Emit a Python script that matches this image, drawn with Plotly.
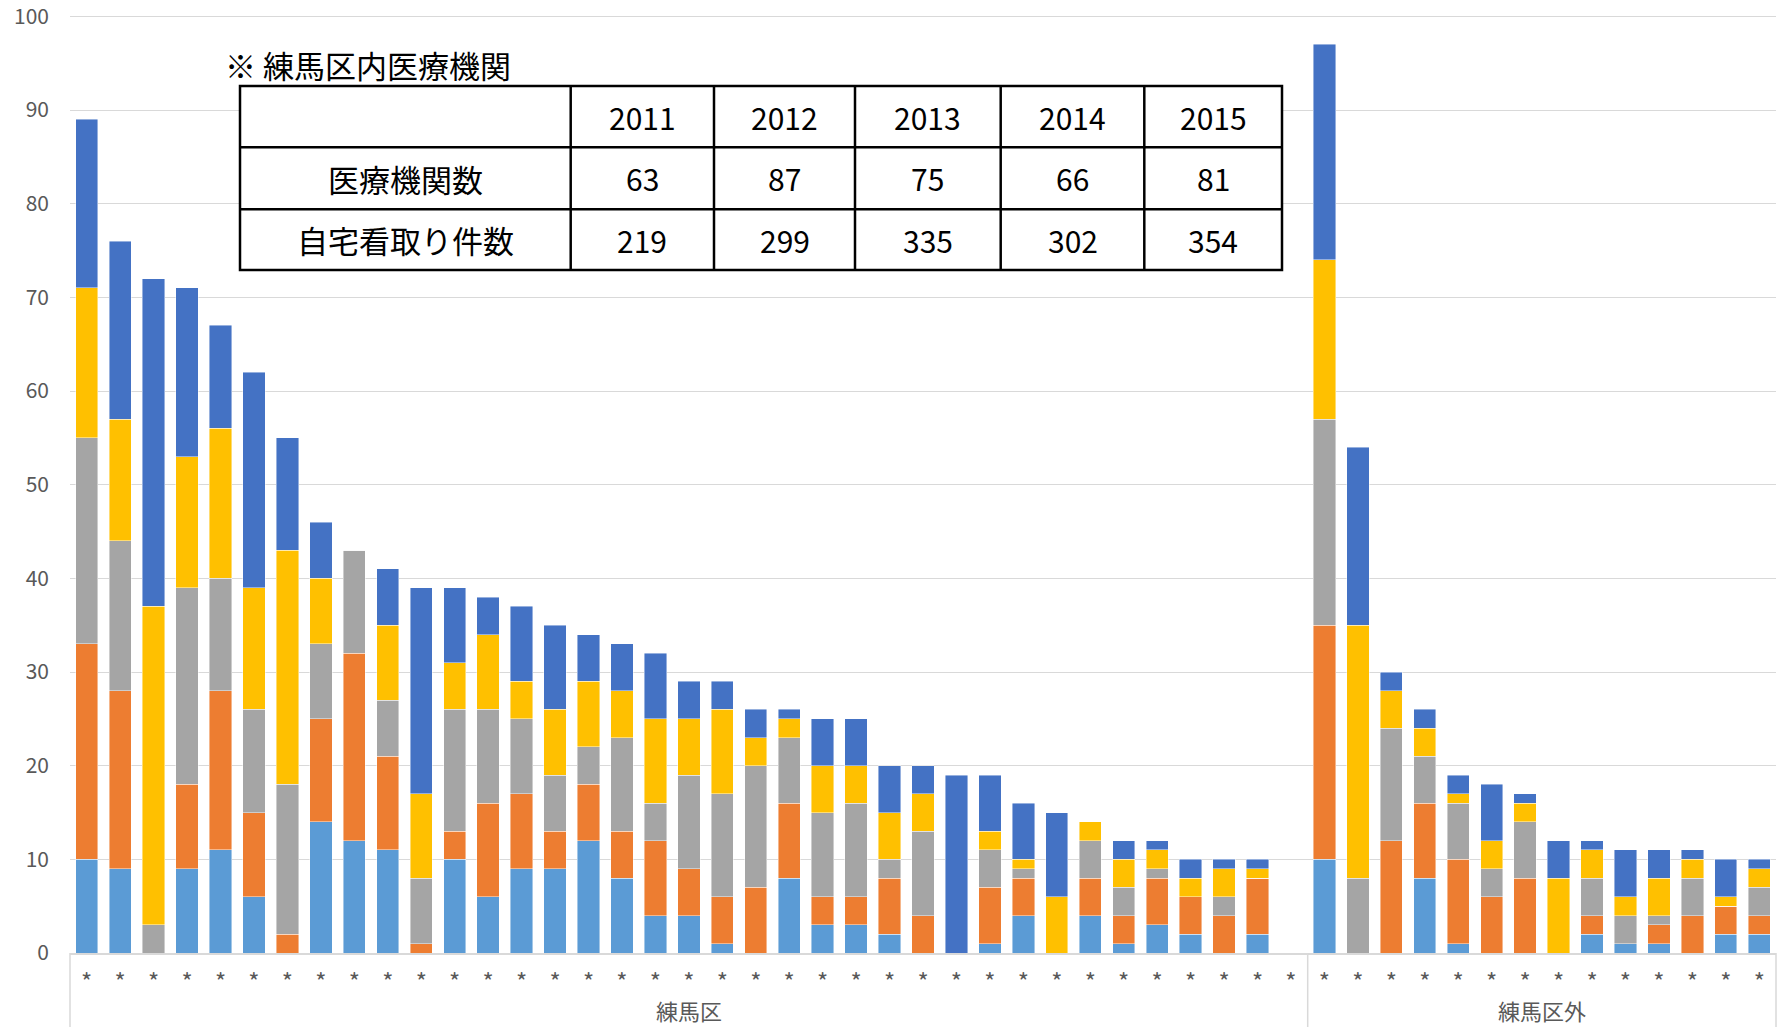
import plotly.graph_objects as go

# --- data -------------------------------------------------------------
years = ["2011", "2012", "2013", "2014", "2015"]

# home-death counts per medical institution, one list per year
# first 37 institutions are inside 練馬区, the last 14 are outside
y2011 = [10, 9, 0, 9, 11, 6, 0, 14, 12, 11, 0, 10, 6, 9, 9, 12, 8, 4, 4, 1,
         0, 8, 3, 3, 2, 0, 0, 1, 4, 0, 4, 1, 3, 2, 0, 2, 0,
         10, 0, 0, 8, 1, 0, 0, 0, 2, 1, 1, 0, 2, 2]
y2012 = [23, 19, 0, 9, 17, 9, 2, 11, 20, 10, 1, 3, 10, 8, 4, 6, 5, 8, 5, 5,
         7, 8, 3, 3, 6, 4, 0, 6, 4, 0, 4, 3, 5, 4, 4, 6, 0,
         25, 0, 12, 8, 9, 6, 8, 0, 2, 0, 2, 4, 3, 2]
y2013 = [22, 16, 3, 21, 12, 11, 16, 8, 11, 6, 7, 13, 10, 8, 6, 4, 10, 4, 10, 11,
         13, 7, 9, 10, 2, 9, 0, 4, 1, 0, 4, 3, 1, 0, 2, 0, 0,
         22, 8, 12, 5, 6, 3, 6, 0, 4, 3, 1, 4, 0, 3]
y2014 = [16, 13, 34, 14, 16, 13, 25, 7, 0, 8, 9, 5, 8, 4, 7, 7, 5, 9, 6, 9,
         3, 2, 5, 4, 5, 4, 0, 2, 1, 6, 2, 3, 2, 2, 3, 1, 0,
         17, 27, 4, 3, 1, 3, 2, 8, 3, 2, 4, 2, 1, 2]
y2015 = [18, 19, 35, 18, 11, 23, 12, 6, 0, 6, 22, 8, 4, 8, 9, 5, 5, 7, 4, 3,
         3, 1, 5, 5, 5, 3, 19, 6, 6, 9, 0, 2, 1, 2, 1, 1, 0,
         23, 19, 2, 2, 2, 6, 1, 4, 1, 5, 3, 1, 4, 1]

groups = ["練馬区", "練馬区外"]
group_sizes = [37, 14]
category_label = "*"
y_ticks = [0, 10, 20, 30, 40, 50, 60, 70, 80, 90, 100]

# table shown inside the chart
table_title = "※ 練馬区内医療機関"
row_labels = ["医療機関数", "自宅看取り件数"]
institution_counts = [63, 87, 75, 66, 81]
home_death_totals = [219, 299, 335, 302, 354]

colors = ["#5B9BD5", "#ED7D31", "#A5A5A5", "#FFC000", "#4472C4"]

# --- layout geometry --------------------------------------------------
W, H = 1781, 1027
ML, MR, MT, MB = 70, 5, 7, 74
PW, PH = W - ML - MR, H - MT - MB
Y_TOP = 101
FONT = "Noto Sans CJK JP"
GRID = "#D9D9D9"
LABEL = "#595959"


def px_x(x):
    return (x - ML) / PW


def px_y(y):
    return (H - MB - y) / PH


n = sum(group_sizes)
xs = list(range(n))
series = [y2011, y2012, y2013, y2014, y2015]

fig = go.Figure()
for name, vals, col in zip(years, series, colors):
    fig.add_trace(go.Bar(
        x=xs, y=vals, name=name,
        marker=dict(color=col, line=dict(color="rgba(255,255,255,0.55)", width=0.8)),
        showlegend=False,
    ))

shapes = []
annotations = []

# group separators below the category axis
bottom = -MB / PH
bounds = [0]
for s in group_sizes:
    bounds.append(bounds[-1] + s)
for b in bounds:
    xp = b / n
    shapes.append(dict(type="line", xref="paper", yref="paper",
                       x0=xp, x1=xp, y0=0, y1=bottom,
                       line=dict(color=GRID, width=1.5)))
for g, a, b in zip(groups, bounds[:-1], bounds[1:]):
    annotations.append(dict(text=g, xref="x", yref="paper",
                            x=(a + b - 1) / 2, y=px_y(1010),
                            xanchor="center", yanchor="middle", showarrow=False,
                            font=dict(family=FONT, size=22, color=LABEL)))

# inset table
col_edges = [240, 570.7, 714, 855, 1000.7, 1144.3, 1282]
row_edges = [86, 147.3, 209.3, 270]
shapes.append(dict(type="rect", xref="paper", yref="paper", layer="above",
                   x0=px_x(col_edges[0]), x1=px_x(col_edges[-1]),
                   y0=px_y(row_edges[-1]), y1=px_y(row_edges[0]),
                   fillcolor="white", line=dict(color="black", width=2.5)))
for cx in col_edges[1:-1]:
    shapes.append(dict(type="line", xref="paper", yref="paper", layer="above",
                       x0=px_x(cx), x1=px_x(cx),
                       y0=px_y(row_edges[-1]), y1=px_y(row_edges[0]),
                       line=dict(color="black", width=2.5)))
for ry in row_edges[1:-1]:
    shapes.append(dict(type="line", xref="paper", yref="paper", layer="above",
                       x0=px_x(col_edges[0]), x1=px_x(col_edges[-1]),
                       y0=px_y(ry), y1=px_y(ry),
                       line=dict(color="black", width=2.5)))

table_rows = [[""] + years,
              [row_labels[0]] + [str(v) for v in institution_counts],
              [row_labels[1]] + [str(v) for v in home_death_totals]]
for r, row in enumerate(table_rows):
    cy = (row_edges[r] + row_edges[r + 1]) / 2
    for c, txt in enumerate(row):
        if not txt:
            continue
        cx = (col_edges[c] + col_edges[c + 1]) / 2
        size = 31 if c == 0 else 30
        annotations.append(dict(text=txt, xref="paper", yref="paper",
                                x=px_x(cx), y=px_y(cy),
                                xanchor="center", yanchor="middle", showarrow=False,
                                font=dict(family=FONT, size=size, color="black")))

annotations.append(dict(text=table_title, xref="paper", yref="paper",
                        x=px_x(223), y=px_y(64), xanchor="left", yanchor="middle",
                        showarrow=False,
                        font=dict(family=FONT, size=31, color="black")))

fig.update_layout(
    width=W, height=H,
    margin=dict(l=ML, r=MR, t=MT, b=MB, autoexpand=False),
    barmode="stack", bargap=0.333,
    plot_bgcolor="white", paper_bgcolor="white",
    font=dict(family=FONT, color=LABEL),
    shapes=shapes, annotations=annotations,
    xaxis=dict(range=[-0.5, n - 0.5], tickmode="array", tickvals=xs,
               ticktext=[category_label] * n, showgrid=False, zeroline=False,
               showline=True, linecolor=GRID, linewidth=1.5, automargin=False,
               ticks="", ticklabelstandoff=7,
               tickfont=dict(family=FONT, size=24, color=LABEL)),
    yaxis=dict(range=[0, Y_TOP], tickmode="array", tickvals=y_ticks,
               showgrid=True, gridcolor=GRID, automargin=False,
               gridwidth=1.3, zeroline=False, showline=False, ticks="",
               ticklabelstandoff=20, ticklabeloverflow="allow",
               tickfont=dict(family=FONT, size=21, color=LABEL)),
)

fig.write_html("out.html")
